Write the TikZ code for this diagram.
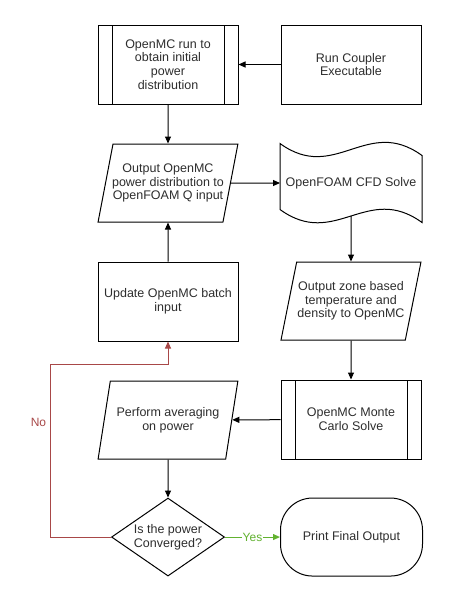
\documentclass[tikz,border=0pt]{standalone}
\usepackage{fontspec}
\setmainfont{Liberation Sans}
\usepackage{xcolor}
\usepackage{tikz}
\usetikzlibrary{positioning, arrows.meta, shapes.geometric}

\definecolor{textgray}{RGB}{45,45,45}
\definecolor{nored}{RGB}{168,72,72}
\definecolor{yesgreen}{RGB}{98,178,48}

\tikzset{
  block/.style={draw, rectangle, minimum width=140pt, minimum height=79pt,
    align=center, text=textgray, font=\fontsize{12.5}{13.7}\selectfont},
  procbox/.style={block, path picture={
      \draw ([xshift=14pt]path picture bounding box.north west) -- ([xshift=14pt]path picture bounding box.south west)
            ([xshift=-14pt]path picture bounding box.north east) -- ([xshift=-14pt]path picture bounding box.south east);}},
  iobox/.style={block, trapezium, trapezium left angle=74, trapezium right angle=106,
    trapezium stretches=true, minimum height=78pt, inner xsep=-8pt},
  docbox/.style={block, draw=none, minimum width=141pt, minimum height=78pt},
  decision/.style={block, diamond, aspect=1.45, minimum width=113pt, minimum height=78pt, inner sep=0pt},
  terminal/.style={block, rounded corners=32pt, minimum width=142pt, minimum height=78pt},
  flow/.style={->},
  noflow/.style={->, draw=nored},
  yesflow/.style={->, draw=yesgreen}
}

\begin{document}
\begin{tikzpicture}[>={Triangle[length=7pt,width=6pt]}, node distance=39pt, line width=1pt]
    \useasboundingbox (0,0) rectangle (449pt,-600pt);

    % left column
    \node[procbox] (init) at (168pt,-64.5pt) {OpenMC run to\\obtain initial\\power\\distribution};
    \node[iobox, below=of init] (outq) {Output OpenMC\\power distribution to\\OpenFOAM Q input};
    \node[block, below=of outq] (update) {Update OpenMC batch\\input};
    \node[iobox, below=of update] (avg) {Perform averaging\\on power};
    \node[decision, below=38pt of avg] (conv) {Is the power\\Converged?};

    % right column
    \node[block, right=42pt of init] (run) {Run Coupler\\Executable};
    \node[docbox, below=of run] (cfd) {OpenFOAM CFD Solve};
    \node[iobox, below=of cfd] (zone) {Output zone based\\temperature and\\density to OpenMC};
    \node[procbox, below=of zone] (mc) {OpenMC Monte\\Carlo Solve};
    \node[terminal, right=55pt of conv] (final) {Print Final Output};

    % wavy document outline
    \draw (cfd.north west) .. controls +(55pt,-40pt) and +(-55pt,40pt) .. ([yshift=-12pt]cfd.north east)
          -- (cfd.south east) .. controls +(-55pt,40pt) and +(55pt,-40pt) .. ([yshift=13pt]cfd.south west)
          coordinate[pos=0.5] (cfdbot) -- cycle;

    \coordinate (nobend) at (50pt,-364pt);

    \draw[flow] (run) -- (init);
    \draw[flow] (init) -- (outq);
    \draw[flow] (outq) -- (cfd);
    \draw[flow] (cfdbot) -- (zone);
    \draw[flow] (zone) -- (mc);
    \draw[flow] (mc) -- (avg);
    \draw[flow] (avg) -- (conv);
    \draw[flow] (update) -- (outq);
    \draw[yesflow] (conv) -- node[fill=white, inner sep=1pt, text=yesgreen, font=\fontsize{12}{14}\selectfont] {Yes} (final);
    \draw[noflow] (conv.west) -| node[pos=0.83, left, text=nored, font=\fontsize{12}{14}\selectfont] {No} (nobend) -| (update.south);
\end{tikzpicture}
\end{document}
